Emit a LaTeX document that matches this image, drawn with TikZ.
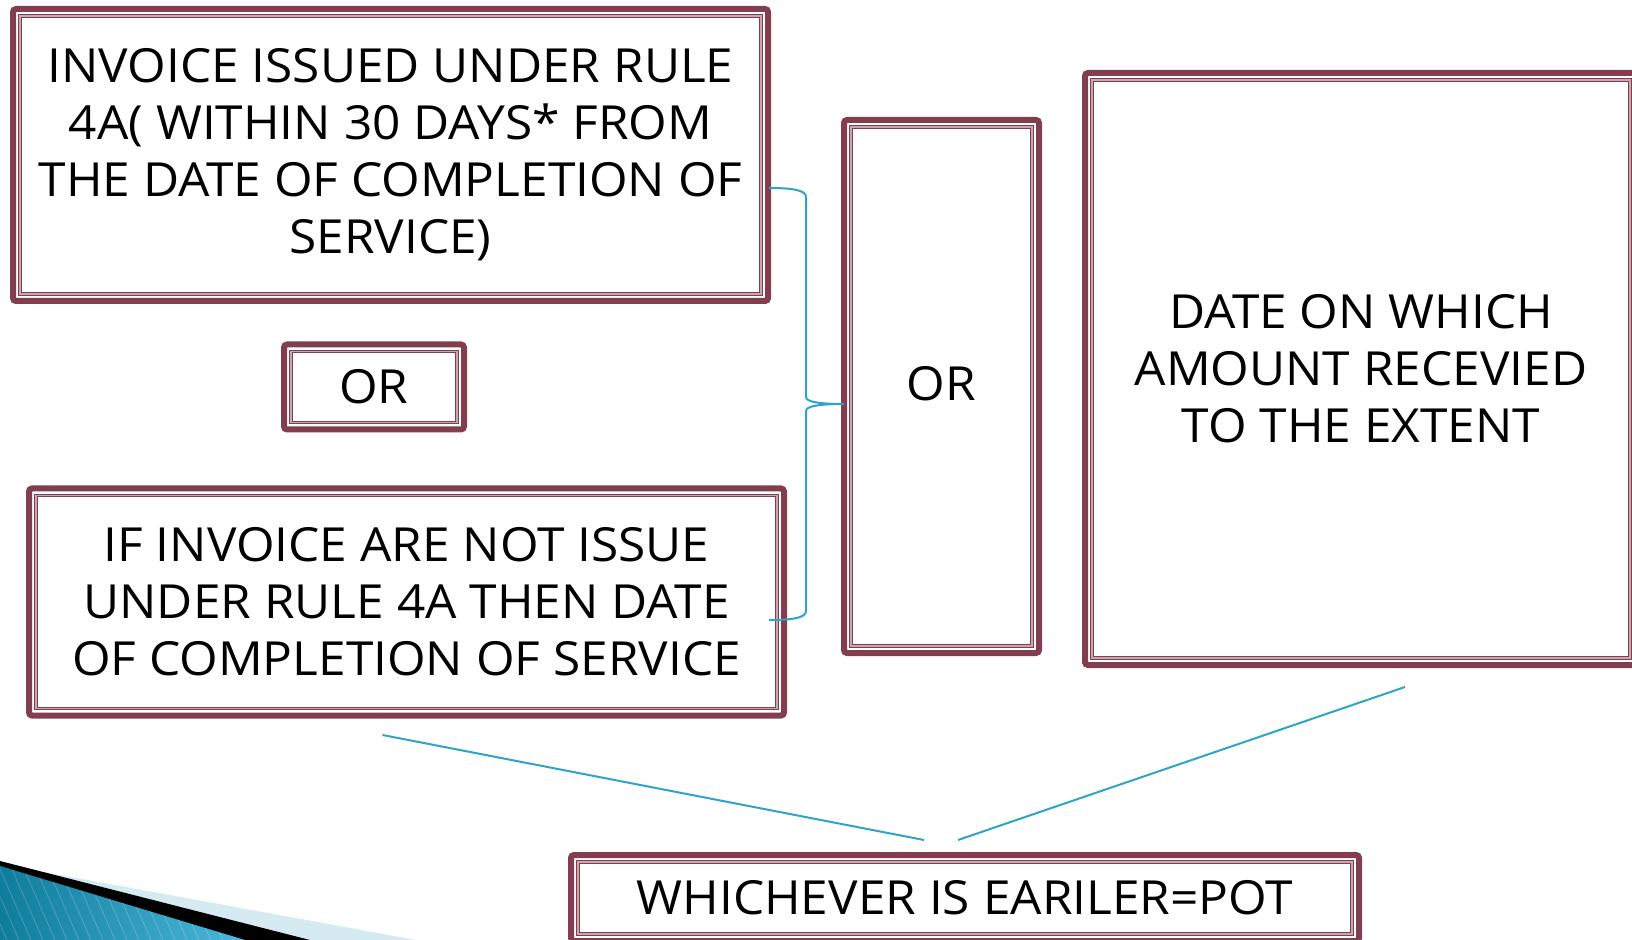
\documentclass[tikz,border=0pt]{standalone}
\usepackage{fontspec}
\setmainfont[FakeStretch=1.055]{Open Sans}
\definecolor{boxred}{HTML}{823E4E}
\definecolor{linkblue}{HTML}{2FA4C8}
\definecolor{tealdark}{HTML}{0E7C9B}
\definecolor{teallight}{HTML}{4DB8DC}
\definecolor{skypale}{HTML}{D6EAF2}
\tikzset{
  dbox/.style={draw=boxred, line width=3pt, rounded corners=1.5pt, inner sep=0pt,
    align=center, font=\fontsize{23.5}{28.5}\selectfont,
    path picture={\draw[boxred, line width=0.5pt, double=boxred!45, double distance=0.6pt, sharp corners]
      ([shift={(3.5pt,-3.5pt)}]path picture bounding box.north west) rectangle
      ([shift={(-3.5pt,3.5pt)}]path picture bounding box.south east);}},
  conn/.style={draw=linkblue, line width=1pt},
}
\begin{document}
\begin{tikzpicture}[x=0.5pt,y=-0.5pt]
\useasboundingbox (0,0) rectangle (1632,940);
\clip (0,0) rectangle (1632,940);

% Corner ribbon
\fill[skypale] (0,864) -- (416,940) -- (0,940) -- cycle;
\fill[black] (0,861) -- (310,940) -- (0,940) -- cycle;
\begin{scope}
\clip (0,866) -- (245,940) -- (0,940) -- cycle;
\shade[left color=tealdark, right color=teallight] (0,860) rectangle (250,940);
\foreach \s in {-40,-28,...,260}
  \draw[white, opacity=0.18, line width=0.5pt] (\s,860) -- (\s+35,940);
\end{scope}

% Boxes
\node[dbox, minimum width=377.5pt, minimum height=146pt] (invoice) at (390.5,155)
  {INVOICE ISSUED UNDER RULE\\4A( WITHIN 30 DAYS* FROM\\THE DATE OF COMPLETION OF\\SERVICE)};
\node[dbox, minimum width=90pt, minimum height=42.5pt] (orsmall) at (374,387) {OR};
\node[dbox, minimum width=377.5pt, minimum height=113.5pt] (noinvoice) at (406.5,602)
  {IF INVOICE ARE NOT ISSUE\\UNDER RULE 4A THEN DATE\\OF COMPLETION OF SERVICE};
\node[dbox, minimum width=97.5pt, minimum height=266.5pt] (ortall) at (941.5,386.5) {\raisebox{3pt}{OR}};
\node[dbox, minimum width=276pt, minimum height=296pt] (amount) at (1361,369)
  {DATE ON WHICH\\AMOUNT RECEVIED\\TO THE EXTENT};
\node[dbox, minimum width=394pt, minimum height=43pt] (pot) at (965,898)
  {WHICHEVER IS EARILER=POT};

% Brace
\coordinate (bt) at ([shift={(-2,33)}]invoice.east);
\coordinate (bb) at ([shift={(-18,18)}]noinvoice.east);
\coordinate (tip) at ([shift={(3,17.5)}]ortall.west);
\draw[conn] (bt) .. controls (792,188) and (806,190) .. (806,197) -- (806,397)
  .. controls (806,402) and (820,404) .. (tip)
  .. controls (820,404) and (806,406) .. (806,411) -- (806,611)
  .. controls (806,618) and (792,620) .. (bb);

% Lines to result
\coordinate (l1s) at ([shift={(-24,16.5)}]noinvoice.south);
\coordinate (l1e) at ([shift={(-41,-12)}]pot.north);
\coordinate (l2s) at ([shift={(-7,-12)}]pot.north);
\coordinate (l2e) at ([shift={(44,19)}]amount.south);
\draw[conn] (l1s) -- (l1e);
\draw[conn] (l2s) -- (l2e);
\end{tikzpicture}
\end{document}
